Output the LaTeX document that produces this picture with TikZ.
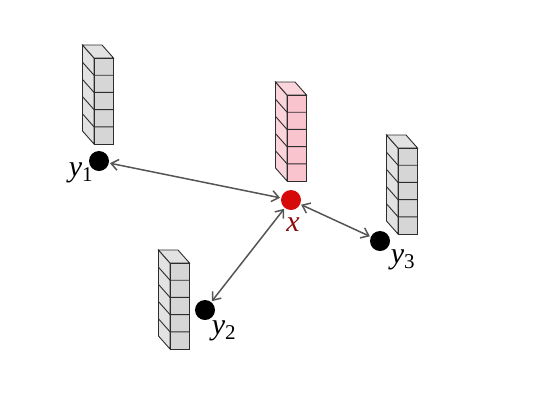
\documentclass[tikz,border=0pt]{standalone}
\usepackage{amsmath}
\usepackage{fontspec}
\setmainfont{Liberation Serif}
\usepackage{xcolor}
\usepackage{tikz}
\usetikzlibrary{positioning,arrows.meta}
\definecolor{edgegray}{RGB}{45,45,45}
\definecolor{arrowgray}{RGB}{85,85,85}
\definecolor{boxfront}{RGB}{214,214,214}
\definecolor{boxside}{RGB}{226,226,226}
\definecolor{pinkfront}{RGB}{249,196,206}
\definecolor{pinkside}{RGB}{252,212,220}
\definecolor{dotred}{RGB}{214,10,10}
\definecolor{labelred}{RGB}{140,10,10}

% stack of five cells: front top-left corner (#1,#2), front fill #3, side fill #4
\newcommand{\cellstack}[4]{%
  \begin{scope}[shift={(#1,#2)}]
    \filldraw[fill=#4, draw=edgegray, line width=0.9pt] (0,0) -- (-11.5,-13) -- (-11.5,73) -- (0,86) -- cycle;
    \filldraw[fill=#4, draw=edgegray, line width=0.9pt] (0,0) -- (-11.5,-13) -- (8,-13) -- (19.5,0) -- cycle;
    \filldraw[fill=#3, draw=edgegray, line width=0.9pt] (0,0) rectangle (19.5,86);
    \foreach \k in {1,...,4}
      \draw[edgegray, line width=0.9pt] (-11.5,17.2*\k-13) -- (0,17.2*\k) -- (19.5,17.2*\k);
  \end{scope}}

\begin{document}
\begin{tikzpicture}[x=1pt, y=-1pt,
  every node/.style={font=\fontsize{30}{32}\selectfont},
  point/.style={circle, fill=black, minimum size=20pt, inner sep=0pt},
  query/.style={circle, fill=dotred, minimum size=20pt, inner sep=0pt},
  link/.style={{Straight Barb[length=7pt,width=11pt]}-{Straight Barb[length=7pt,width=11pt]},
               line width=1.5pt, color=arrowgray, shorten <=1pt, shorten >=1pt}
]
  \useasboundingbox (0,0) rectangle (535,400);

  \cellstack{94}{58}{boxfront}{boxside}
  \cellstack{287}{95}{pinkfront}{pinkside}
  \cellstack{398}{148}{boxfront}{boxside}
  \cellstack{170}{263}{boxfront}{boxside}

  \node[point] (y1) at (99,161) {};
  \node[query] (x) at (291,200) {};
  \node[point] (y3) at (380,241) {};
  \node[point] (y2) at (205,310) {};

  \node (ly1) at (81,173) {\textit{y}$_{\text{1}}$};
  \node[text=labelred] (lx) at (293,225) {\textit{x}};
  \node (ly3) at (403,260) {\textit{y}$_{\text{3}}$};
  \node (ly2) at (224,331) {\textit{y}$_{\text{2}}$};

  \draw[link] (y1) -- (x);
  \draw[link] (x) -- (y2);
  \draw[link] (x) -- (y3);
\end{tikzpicture}
\end{document}
